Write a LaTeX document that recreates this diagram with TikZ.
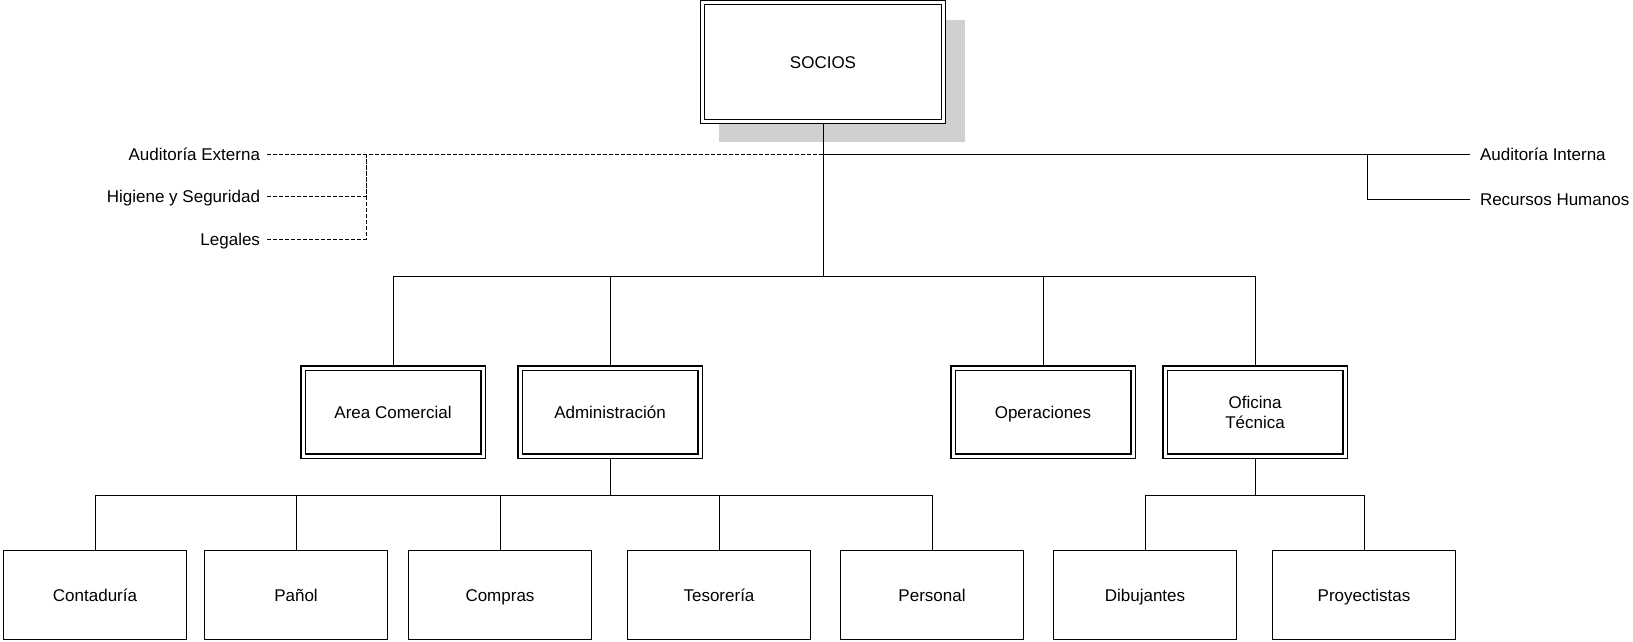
\documentclass[tikz,border=0pt]{standalone}
\usepackage{fontspec}
\setmainfont{Liberation Sans}
\definecolor{shadowgray}{RGB}{208,208,208}
\begin{document}
\begin{tikzpicture}[x=1pt,y=-1pt,
  every node/.style={font=\fontsize{17pt}{20pt}\selectfont},
  labeltext/.style={inner sep=0pt, text height=12pt, text depth=0pt},
  dunit/.style={draw, fill=white, line width=1.2pt, double, double distance=3pt,
    inner sep=0pt, outer sep=2.7pt, minimum width=180pt, minimum height=88pt,
    text height=12pt, text depth=0pt},
  sunit/.style={draw, fill=white, line width=1.3pt, inner sep=0pt, outer sep=0.6pt,
    minimum width=183pt, minimum height=89pt, text height=12pt, text depth=0pt},
  link/.style={line width=1pt},
  dashlink/.style={line width=1pt, dash pattern=on 4pt off 2pt}]
\useasboundingbox (0,0) rectangle (1633,641);

% top box with its shadow
\fill[shadowgray] (719,20) rectangle (965,142);
\node[dunit, minimum width=240.5pt, minimum height=118.5pt] (socios) at (823,62) {SOCIOS};

% staff units
\node[labeltext, outer xsep=7pt, anchor=east] (ext) at (267,154) {Auditoría Externa};
\node[labeltext, outer xsep=7pt, anchor=east] (hig) at (267,196) {Higiene y Seguridad};
\node[labeltext, outer xsep=7pt, anchor=east] (leg) at (267,239) {Legales};
\node[labeltext, outer xsep=10pt, anchor=west] (aint) at (1470,154) {Auditoría Interna};
\node[labeltext, outer xsep=10pt, anchor=west] (rrhh) at (1470,199.5) {Recursos Humanos};

% first level
\node[dunit] (area) at (393,412) {Area Comercial};
\node[dunit] (admin) at (610,412) {Administración};
\node[dunit] (oper) at (1043,412) {Operaciones};
\node[dunit, text height=, text depth=, align=center] (ofic) at (1255,412) {Oficina\\Técnica};

% second level
\node[sunit] (cont) at (95,595) {Contaduría};
\node[sunit] (panol) at (296,595) {Pañol};
\node[sunit] (compras) at (500,595) {Compras};
\node[sunit] (teso) at (719,595) {Tesorería};
\node[sunit] (pers) at (932,595) {Personal};
\node[sunit] (dib) at (1145,595) {Dibujantes};
\node[sunit] (proy) at (1364,595) {Proyectistas};

% junction points
\coordinate (hub) at (socios.south |- 0,154);
\coordinate (djoin) at (366,154);
\coordinate (rjoin) at (1367,154);
\coordinate (bus1) at (socios.south |- 0,276);
\coordinate (bus2) at (admin.south |- 0,495);
\coordinate (bus3) at (ofic.south |- 0,495);

% staff connectors
\draw[dashlink] (ext.east) -- (hub);
\draw[dashlink] (hig.east) -| (djoin);
\draw[dashlink] (leg.east) -| (djoin);
\draw[link] (hub) -- (aint.west);
\draw[link] (rrhh.west) -| (rjoin);

% line connectors
\draw[link] (socios.south) -- (bus1);
\foreach \n in {area,admin,oper,ofic} \draw[link] (\n.north) |- (bus1);
\draw[link] (admin.south) -- (bus2);
\foreach \n in {cont,panol,compras,teso,pers} \draw[link] (\n.north) |- (bus2);
\draw[link] (ofic.south) -- (bus3);
\foreach \n in {dib,proy} \draw[link] (\n.north) |- (bus3);
\end{tikzpicture}
\end{document}
